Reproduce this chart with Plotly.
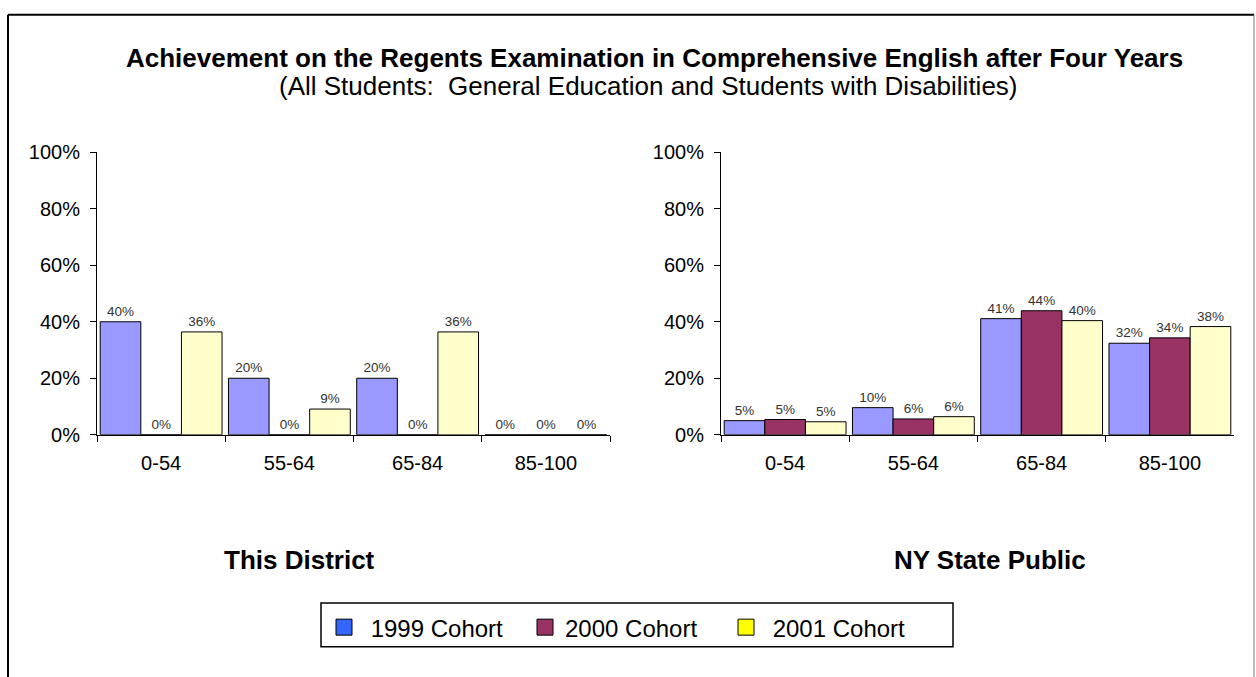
import plotly.graph_objects as go

categories = ["0-54", "55-64", "65-84", "85-100"]
cohorts = ["1999 Cohort", "2000 Cohort", "2001 Cohort"]

district_1999 = [40.0, 20.0, 20.0, 0.0]
district_2000 = [0.0, 0.0, 0.0, 0.0]
district_2001 = [36.4, 9.1, 36.4, 0.0]

state_1999 = [5.0, 9.6, 41.1, 32.4]
state_2000 = [5.4, 5.6, 43.9, 34.3]
state_2001 = [4.6, 6.4, 40.4, 38.3]

y_ticks = [0, 20, 40, 60, 80, 100]
y_tick_labels = ["0%", "20%", "40%", "60%", "80%", "100%"]

bar_colors = ["#9999FF", "#993366", "#FFFFCC"]
legend_colors = ["#3366FF", "#993366", "#FFFF00"]
legend_pad = ["\u00a0", "", "\u00a0"]

FONT = "Liberation Sans, Arial, sans-serif"
W, H = 1256, 677

def px_x(p):
    return p / W

def px_y(p):
    return 1 - p / H

fig = go.Figure()

panels = [
    ("x", "y", [district_1999, district_2000, district_2001]),
    ("x2", "y2", [state_1999, state_2000, state_2001]),
]
for xa, ya, series in panels:
    for name, vals, col in zip(cohorts, series, bar_colors):
        fig.add_trace(go.Bar(
            x=categories, y=vals, name=name, xaxis=xa, yaxis=ya,
            marker=dict(color=col, line=dict(color="black", width=1)),
            text=[f"{v:.0f}%" for v in vals], textposition="outside",
            textfont=dict(size=13.5, color="#333333", family=FONT),
            cliponaxis=False, showlegend=False, hoverinfo="skip",
        ))

for name, col, pad in zip(cohorts, legend_colors, legend_pad):
    fig.add_trace(go.Scatter(
        x=[None], y=[None], name=pad + name, mode="markers", xaxis="x", yaxis="y",
        marker=dict(symbol="square", size=16, color=col, line=dict(color="black", width=1)),
        showlegend=True, hoverinfo="skip",
    ))

ydom = [px_y(438), px_y(146)]
axis_common = dict(
    showline=True, linecolor="black", linewidth=1, ticks="outside",
    tickcolor="black", ticklen=6, showgrid=False, zeroline=False,
    tickfont=dict(size=20, color="black", family=FONT),
)
yaxis_common = dict(axis_common, range=[0, 100], tickvals=y_ticks, ticktext=y_tick_labels,
                    ticklen=6, ticklabelstandoff=6)
xaxis_common = dict(axis_common, tickson="boundaries", type="category", ticklabelstandoff=10)

fig.update_layout(
    width=W, height=H,
    margin=dict(l=0, r=0, t=0, b=0),
    paper_bgcolor="white", plot_bgcolor="white",
    barmode="group", bargap=0.05, bargroupgap=0,
    font=dict(family=FONT, color="black"),
    xaxis=dict(xaxis_common, domain=[px_x(97), px_x(610)], anchor="y"),
    yaxis=dict(yaxis_common, domain=ydom, anchor="x"),
    xaxis2=dict(xaxis_common, domain=[px_x(721), px_x(1234)], anchor="y2"),
    yaxis2=dict(yaxis_common, domain=ydom, anchor="x2"),
    legend=dict(
        orientation="h", x=px_x(324), y=px_y(614), xanchor="left", yanchor="top",
        font=dict(size=24, family=FONT, color="black"),
        bgcolor="rgba(0,0,0,0)", borderwidth=0,
        entrywidth=156, entrywidthmode="pixels", itemsizing="trace",
        traceorder="normal",
    ),
    showlegend=True,
    hovermode=False,
)

# outer frame
fig.add_shape(type="line", xref="paper", yref="paper", x0=px_x(8), x1=px_x(1254), y0=px_y(4), y1=px_y(4),
              line=dict(color="black", width=2))
fig.add_shape(type="line", xref="paper", yref="paper", x0=px_x(8), x1=px_x(8), y0=px_y(4), y1=-0.05,
              line=dict(color="black", width=2))
fig.add_shape(type="line", xref="paper", yref="paper", x0=px_x(1254), x1=px_x(1254), y0=px_y(4), y1=-0.05,
              line=dict(color="#777777", width=1))
# legend box
fig.add_shape(type="rect", xref="paper", yref="paper",
              x0=px_x(321), x1=px_x(953), y0=px_y(612), y1=px_y(657),
              line=dict(color="black", width=1.5), fillcolor="rgba(0,0,0,0)")

def label(text, x, y, size, bold=False):
    t = f"<b>{text}</b>" if bold else text
    fig.add_annotation(text=t, x=px_x(x), y=px_y(y), xref="paper", yref="paper",
                       xanchor="center", yanchor="middle", showarrow=False,
                       font=dict(size=size, family=FONT, color="black"))

label("Achievement on the Regents Examination in Comprehensive English after Four Years", 654, 49, 26, True)
label("(All Students:  General Education and Students with Disabilities)", 648, 78, 26)
label("This District", 299, 567, 26, True)
label("NY State Public", 990, 567, 26, True)

fig.write_html("out.html", config={"displayModeBar": False},
               post_script="document.body.style.margin='0';")
